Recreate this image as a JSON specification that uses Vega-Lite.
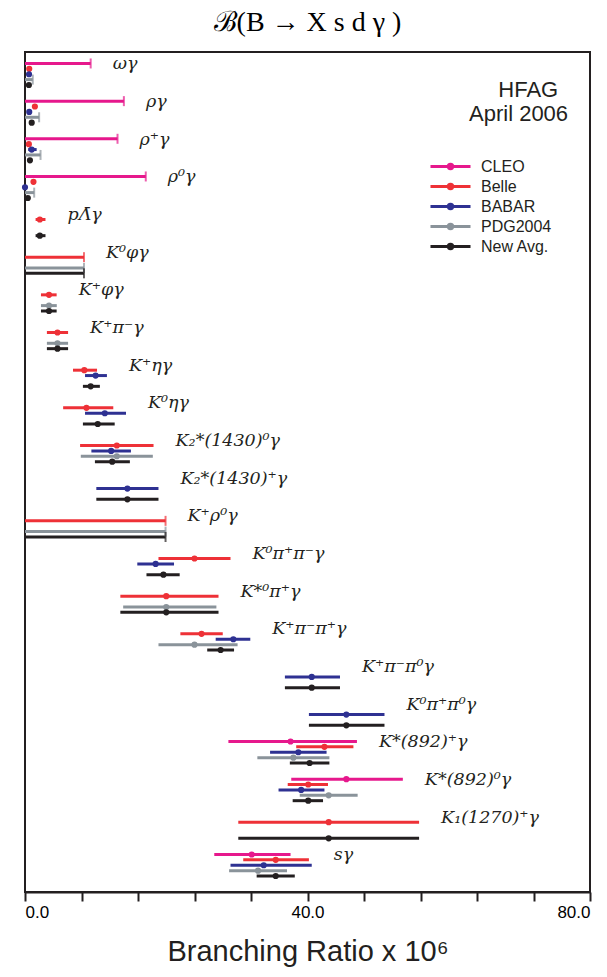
{
  "$schema": "https://vega.github.io/schema/vega-lite/v6.json",
  "width": 565,
  "height": 840,
  "autosize": {"type": "none"},
  "padding": {"left": 25, "top": 52, "right": 17, "bottom": 85},
  "background": "white",
  "title": {
    "text": "ℬ(B → X s d  γ )",
    "font": "Liberation Serif",
    "fontSize": 28,
    "fontWeight": "normal",
    "color": "black",
    "anchor": "middle",
    "offset": 15
  },
  "config": {
    "view": {"stroke": "#231F20", "strokeWidth": 2},
    "axis": {"grid": false}
  },
  "data": {
    "values": [
      {"mode": "ωγ", "exp": "CLEO", "val": null, "lo": 0, "hi": 9.3, "ul": true},
      {"mode": "ωγ", "exp": "Belle", "val": 0.6, "lo": 0.45, "hi": 0.8, "ul": false},
      {"mode": "ωγ", "exp": "BABAR", "val": 0.57, "lo": 0.45, "hi": 0.7, "ul": false},
      {"mode": "ωγ", "exp": "PDG2004", "val": null, "lo": 0, "hi": 1.1, "ul": true},
      {"mode": "ωγ", "exp": "New Avg.", "val": 0.55, "lo": 0.45, "hi": 0.65, "ul": false},
      {"mode": "ργ", "exp": "CLEO", "val": null, "lo": 0, "hi": 14.0, "ul": true},
      {"mode": "ργ", "exp": "Belle", "val": 1.4, "lo": 1.2, "hi": 1.6, "ul": false},
      {"mode": "ργ", "exp": "BABAR", "val": 0.6, "lo": 0.45, "hi": 0.75, "ul": false},
      {"mode": "ργ", "exp": "PDG2004", "val": null, "lo": 0, "hi": 2.0, "ul": true},
      {"mode": "ργ", "exp": "New Avg.", "val": 0.95, "lo": 0.8, "hi": 1.1, "ul": false},
      {"mode": "ρ⁺γ", "exp": "CLEO", "val": null, "lo": 0, "hi": 13.1, "ul": true},
      {"mode": "ρ⁺γ", "exp": "Belle", "val": 0.55, "lo": 0.4, "hi": 0.7, "ul": false},
      {"mode": "ρ⁺γ", "exp": "BABAR", "val": 0.95, "lo": 0.45, "hi": 1.65, "ul": false},
      {"mode": "ρ⁺γ", "exp": "PDG2004", "val": null, "lo": 0, "hi": 2.2, "ul": true},
      {"mode": "ρ⁺γ", "exp": "New Avg.", "val": 0.7, "lo": 0.55, "hi": 0.85, "ul": false},
      {"mode": "ρ⁰γ", "exp": "CLEO", "val": null, "lo": 0, "hi": 17.1, "ul": true},
      {"mode": "ρ⁰γ", "exp": "Belle", "val": 1.2, "lo": 1.05, "hi": 1.35, "ul": false},
      {"mode": "ρ⁰γ", "exp": "BABAR", "val": 0.0, "lo": -0.1, "hi": 0.1, "ul": false},
      {"mode": "ρ⁰γ", "exp": "PDG2004", "val": null, "lo": 0, "hi": 1.3, "ul": true},
      {"mode": "ρ⁰γ", "exp": "New Avg.", "val": 0.4, "lo": 0.3, "hi": 0.5, "ul": false},
      {"mode": "pΛ̄γ", "exp": "Belle", "val": 2.1, "lo": 1.5, "hi": 2.9, "ul": false},
      {"mode": "pΛ̄γ", "exp": "New Avg.", "val": 2.1, "lo": 1.5, "hi": 2.9, "ul": false},
      {"mode": "K⁰φγ", "exp": "Belle", "val": null, "lo": 0, "hi": 8.35, "ul": true},
      {"mode": "K⁰φγ", "exp": "PDG2004", "val": null, "lo": 0, "hi": 8.35, "ul": true},
      {"mode": "K⁰φγ", "exp": "New Avg.", "val": null, "lo": 0, "hi": 8.35, "ul": true},
      {"mode": "K⁺φγ", "exp": "Belle", "val": 3.4, "lo": 2.26, "hi": 4.48, "ul": false},
      {"mode": "K⁺φγ", "exp": "PDG2004", "val": 3.4, "lo": 2.26, "hi": 4.5, "ul": false},
      {"mode": "K⁺φγ", "exp": "New Avg.", "val": 3.4, "lo": 2.26, "hi": 4.48, "ul": false},
      {"mode": "K⁺π⁻γ", "exp": "Belle", "val": 4.6, "lo": 3.1, "hi": 6.1, "ul": false},
      {"mode": "K⁺π⁻γ", "exp": "PDG2004", "val": 4.6, "lo": 3.1, "hi": 6.1, "ul": false},
      {"mode": "K⁺π⁻γ", "exp": "New Avg.", "val": 4.6, "lo": 3.1, "hi": 6.1, "ul": false},
      {"mode": "K⁺ηγ", "exp": "Belle", "val": 8.4, "lo": 6.8, "hi": 10.2, "ul": false},
      {"mode": "K⁺ηγ", "exp": "BABAR", "val": 10.0, "lo": 8.5, "hi": 11.6, "ul": false},
      {"mode": "K⁺ηγ", "exp": "New Avg.", "val": 9.3, "lo": 8.2, "hi": 10.6, "ul": false},
      {"mode": "K⁰ηγ", "exp": "Belle", "val": 8.7, "lo": 5.4, "hi": 12.5, "ul": false},
      {"mode": "K⁰ηγ", "exp": "BABAR", "val": 11.3, "lo": 8.5, "hi": 14.3, "ul": false},
      {"mode": "K⁰ηγ", "exp": "New Avg.", "val": 10.3, "lo": 8.2, "hi": 12.7, "ul": false},
      {"mode": "K₂*(1430)⁰γ", "exp": "Belle", "val": 13.0, "lo": 7.8, "hi": 18.2, "ul": false},
      {"mode": "K₂*(1430)⁰γ", "exp": "BABAR", "val": 12.2, "lo": 9.4, "hi": 15.0, "ul": false},
      {"mode": "K₂*(1430)⁰γ", "exp": "PDG2004", "val": 13.0, "lo": 7.9, "hi": 18.1, "ul": false},
      {"mode": "K₂*(1430)⁰γ", "exp": "New Avg.", "val": 12.35, "lo": 9.9, "hi": 14.85, "ul": false},
      {"mode": "K₂*(1430)⁺γ", "exp": "BABAR", "val": 14.5, "lo": 10.1, "hi": 18.9, "ul": false},
      {"mode": "K₂*(1430)⁺γ", "exp": "New Avg.", "val": 14.5, "lo": 10.1, "hi": 18.9, "ul": false},
      {"mode": "K⁺ρ⁰γ", "exp": "Belle", "val": null, "lo": 0, "hi": 19.9, "ul": true},
      {"mode": "K⁺ρ⁰γ", "exp": "PDG2004", "val": null, "lo": 0, "hi": 19.9, "ul": true},
      {"mode": "K⁺ρ⁰γ", "exp": "New Avg.", "val": null, "lo": 0, "hi": 19.9, "ul": true},
      {"mode": "K⁰π⁺π⁻γ", "exp": "Belle", "val": 24.0, "lo": 18.9, "hi": 29.1, "ul": false},
      {"mode": "K⁰π⁺π⁻γ", "exp": "BABAR", "val": 18.5, "lo": 15.9, "hi": 21.1, "ul": false},
      {"mode": "K⁰π⁺π⁻γ", "exp": "New Avg.", "val": 19.6, "lo": 17.2, "hi": 21.9, "ul": false},
      {"mode": "K*⁰π⁺γ", "exp": "Belle", "val": 20.0, "lo": 13.5, "hi": 27.4, "ul": false},
      {"mode": "K*⁰π⁺γ", "exp": "PDG2004", "val": 20.0, "lo": 13.9, "hi": 27.1, "ul": false},
      {"mode": "K*⁰π⁺γ", "exp": "New Avg.", "val": 20.0, "lo": 13.5, "hi": 27.4, "ul": false},
      {"mode": "K⁺π⁻π⁺γ", "exp": "Belle", "val": 25.0, "lo": 22.0, "hi": 28.0, "ul": false},
      {"mode": "K⁺π⁻π⁺γ", "exp": "BABAR", "val": 29.5, "lo": 27.0, "hi": 31.9, "ul": false},
      {"mode": "K⁺π⁻π⁺γ", "exp": "PDG2004", "val": 24.0, "lo": 18.9, "hi": 30.1, "ul": false},
      {"mode": "K⁺π⁻π⁺γ", "exp": "New Avg.", "val": 27.7, "lo": 25.8, "hi": 29.6, "ul": false},
      {"mode": "K⁺π⁻π⁰γ", "exp": "BABAR", "val": 40.6, "lo": 36.8, "hi": 44.6, "ul": false},
      {"mode": "K⁺π⁻π⁰γ", "exp": "New Avg.", "val": 40.6, "lo": 36.8, "hi": 44.6, "ul": false},
      {"mode": "K⁰π⁺π⁰γ", "exp": "BABAR", "val": 45.5, "lo": 40.2, "hi": 50.9, "ul": false},
      {"mode": "K⁰π⁺π⁰γ", "exp": "New Avg.", "val": 45.5, "lo": 40.2, "hi": 50.9, "ul": false},
      {"mode": "K*(892)⁺γ", "exp": "CLEO", "val": 37.6, "lo": 28.8, "hi": 47.0, "ul": false},
      {"mode": "K*(892)⁺γ", "exp": "Belle", "val": 42.4, "lo": 38.4, "hi": 46.5, "ul": false},
      {"mode": "K*(892)⁺γ", "exp": "BABAR", "val": 38.7, "lo": 34.7, "hi": 42.7, "ul": false},
      {"mode": "K*(892)⁺γ", "exp": "PDG2004", "val": 38.0, "lo": 32.9, "hi": 43.1, "ul": false},
      {"mode": "K*(892)⁺γ", "exp": "New Avg.", "val": 40.3, "lo": 37.5, "hi": 43.1, "ul": false},
      {"mode": "K*(892)⁰γ", "exp": "CLEO", "val": 45.5, "lo": 37.7, "hi": 53.5, "ul": false},
      {"mode": "K*(892)⁰γ", "exp": "Belle", "val": 40.1, "lo": 37.2, "hi": 42.9, "ul": false},
      {"mode": "K*(892)⁰γ", "exp": "BABAR", "val": 39.1, "lo": 35.9, "hi": 42.4, "ul": false},
      {"mode": "K*(892)⁰γ", "exp": "PDG2004", "val": 43.0, "lo": 38.9, "hi": 47.1, "ul": false},
      {"mode": "K*(892)⁰γ", "exp": "New Avg.", "val": 40.1, "lo": 37.9, "hi": 42.2, "ul": false},
      {"mode": "K₁(1270)⁺γ", "exp": "Belle", "val": 43.0, "lo": 30.2, "hi": 55.8, "ul": false},
      {"mode": "K₁(1270)⁺γ", "exp": "New Avg.", "val": 43.0, "lo": 30.2, "hi": 55.8, "ul": false},
      {"mode": "sγ", "exp": "CLEO", "val": 32.1, "lo": 26.8, "hi": 37.6, "ul": false},
      {"mode": "sγ", "exp": "Belle", "val": 35.5, "lo": 30.9, "hi": 40.2, "ul": false},
      {"mode": "sγ", "exp": "BABAR", "val": 33.8, "lo": 29.1, "hi": 40.6, "ul": false},
      {"mode": "sγ", "exp": "PDG2004", "val": 33.0, "lo": 28.9, "hi": 37.1, "ul": false},
      {"mode": "sγ", "exp": "New Avg.", "val": 35.5, "lo": 32.8, "hi": 38.2, "ul": false}
    ]
  },
  "encoding": {
    "y": {
      "field": "mode",
      "type": "nominal",
      "axis": null,
      "scale": {
        "type": "band",
        "domain": ["ωγ", "ργ", "ρ⁺γ", "ρ⁰γ", "pΛ̄γ", "K⁰φγ", "K⁺φγ", "K⁺π⁻γ", "K⁺ηγ", "K⁰ηγ", "K₂*(1430)⁰γ", "K₂*(1430)⁺γ", "K⁺ρ⁰γ", "K⁰π⁺π⁻γ", "K*⁰π⁺γ", "K⁺π⁻π⁺γ", "K⁺π⁻π⁰γ", "K⁰π⁺π⁰γ", "K*(892)⁺γ", "K*(892)⁰γ", "K₁(1270)⁺γ", "sγ"],
        "paddingInner": 0,
        "paddingOuter": 0.15,
        "align": 0.3
      }
    }
  },
  "layer": [
    {
      "mark": {"type": "rule", "strokeWidth": 3, "strokeCap": "butt"},
      "encoding": {
        "x": {
          "field": "lo",
          "type": "quantitative",
          "scale": {"domain": [0, 80], "nice": false},
          "axis": {
            "values": [0, 8, 16, 24, 32, 40, 48, 56, 64, 72, 80],
            "labelExpr": "datum.value % 40 === 0 ? format(datum.value, '.1f') : ''",
            "title": "Branching Ratio x 10⁶",
            "titleFont": "Liberation Sans",
            "titleFontSize": 29,
            "titleFontWeight": "normal",
            "titleColor": "#231F20",
            "titlePadding": 17,
            "labelFont": "Liberation Sans",
            "labelFontSize": 17,
            "labelColor": "black",
            "labelPadding": 3,
            "labelOverlap": false,
            "tickSize": 9,
            "tickWidth": 2,
            "tickColor": "#231F20",
            "domainColor": "#231F20",
            "domainWidth": 2
          }
        },
        "x2": {"field": "hi"},
        "yOffset": {
          "field": "exp",
          "type": "nominal",
          "scale": {"domain": ["CLEO", "Belle", "BABAR", "PDG2004", "New Avg."], "paddingInner": 0, "paddingOuter": 1.63}
        },
        "color": {
          "field": "exp",
          "type": "nominal",
          "scale": {
            "domain": ["CLEO", "Belle", "BABAR", "PDG2004", "New Avg."],
            "range": ["#E6188C", "#EE3137", "#2E3192", "#8A939A", "#231F20"]
          },
          "legend": {
            "title": null,
            "orient": "none",
            "legendX": 417,
            "legendY": 106,
            "symbolType": "M-3,0H3M0.33,0A0.33,0.33,0,1,1,-0.33,0A0.33,0.33,0,1,1,0.33,0Z",
            "symbolSize": 178,
            "symbolStrokeWidth": 3,
            "labelFont": "Liberation Sans",
            "labelFontSize": 16,
            "labelColor": "#231F20",
            "labelOffset": 22,
            "rowPadding": 3,
            "encode": {
              "symbols": {
                "update": {
                  "fill": {"scale": "color", "field": "value"},
                  "stroke": {"scale": "color", "field": "value"}
                }
              }
            }
          }
        }
      }
    },
    {
      "transform": [{"filter": "datum.ul"}],
      "mark": {"type": "tick", "thickness": 2, "size": 10},
      "encoding": {
        "x": {"field": "hi", "type": "quantitative"},
        "yOffset": {"field": "exp", "type": "nominal"},
        "color": {"field": "exp", "type": "nominal"}
      }
    },
    {
      "transform": [{"filter": "datum.val != null"}],
      "mark": {"type": "point", "filled": true, "size": 38, "opacity": 1},
      "encoding": {
        "x": {"field": "val", "type": "quantitative"},
        "yOffset": {"field": "exp", "type": "nominal"},
        "color": {"field": "exp", "type": "nominal"}
      }
    },
    {
      "mark": {"type": "text", "font": "DejaVu Serif", "fontStyle": "italic", "fontSize": 17.5, "align": "left", "baseline": "middle", "dx": 22, "dy": 1, "color": "#231F20"},
      "encoding": {
        "x": {"aggregate": "max", "field": "hi", "type": "quantitative"},
        "yOffset": {"datum": "CLEO", "type": "nominal"},
        "text": {"field": "mode", "type": "nominal"}
      }
    },
    {
      "data": {"values": [{}]},
      "mark": {"type": "text", "text": "HFAG", "font": "Liberation Sans", "fontSize": 22, "align": "right", "baseline": "middle", "dy": 5, "color": "#231F20"},
      "encoding": {
        "x": {"datum": 75.5, "type": "quantitative"},
        "y": {"datum": "ωγ", "type": "nominal"},
        "yOffset": {"datum": "New Avg.", "type": "nominal"}
      }
    },
    {
      "data": {"values": [{}]},
      "mark": {"type": "text", "text": "April 2006", "font": "Liberation Sans", "fontSize": 22, "align": "right", "baseline": "middle", "dy": 7, "color": "#231F20"},
      "encoding": {
        "x": {"datum": 76.9, "type": "quantitative"},
        "y": {"datum": "ργ", "type": "nominal"},
        "yOffset": {"datum": "Belle", "type": "nominal"}
      }
    }
  ]
}
